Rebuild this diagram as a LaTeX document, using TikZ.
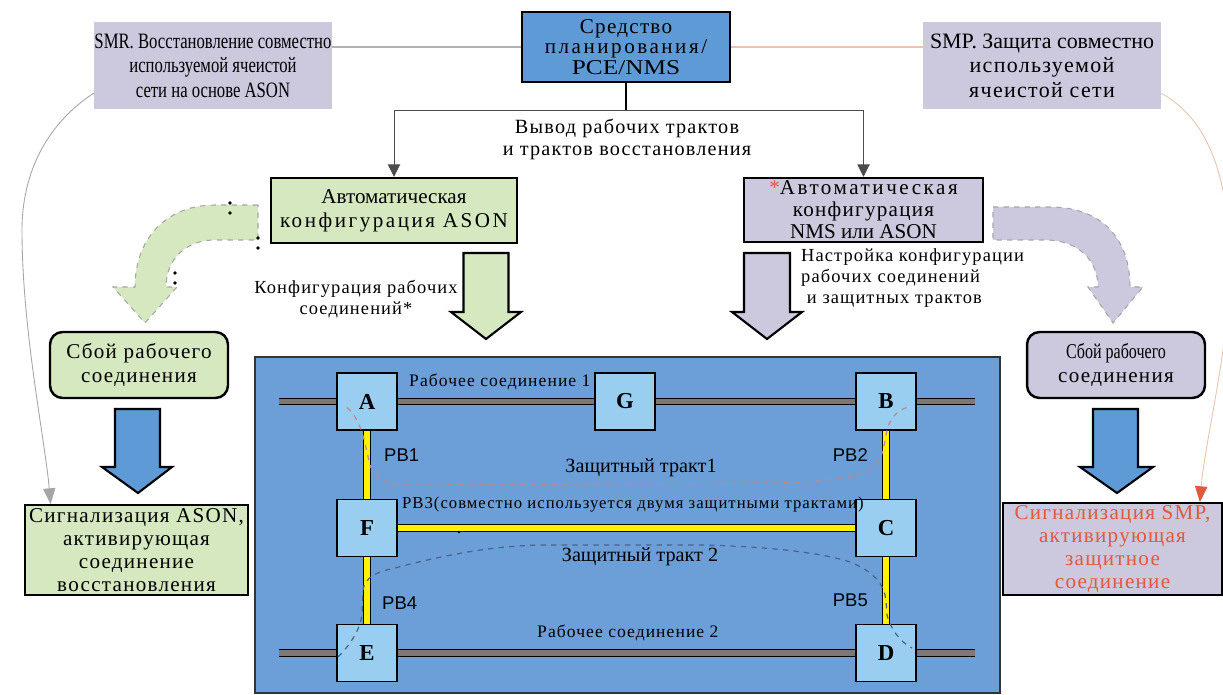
\documentclass[tikz,border=0pt]{standalone}
\usepackage{fontspec}
\usepackage{graphicx}
\setmainfont{Liberation Serif}
\newfontfamily\wideserif[LetterSpace=6]{Liberation Serif}
\newfontfamily\widerserif[LetterSpace=12]{Liberation Serif}
\newfontfamily\pbsans{Liberation Sans}
\usetikzlibrary{arrows.meta}
\definecolor{planBlue}{HTML}{5E9AD6}
\definecolor{netBlue}{HTML}{6C9FD8}
\definecolor{nodeBlue}{HTML}{9ACEF0}
\definecolor{asonGreen}{HTML}{D5E8C0}
\definecolor{noteLilac}{HTML}{CCC8DD}
\definecolor{barGray}{HTML}{7F7775}
\definecolor{smpRed}{HTML}{E2583E}
\definecolor{smpLine}{HTML}{EBC3A8}
\definecolor{protOne}{HTML}{B58A95}
\definecolor{protTwo}{HTML}{4B6387}
\newcommand\narrowline[1]{\scalebox{0.76}[1]{#1}}

\begin{document}
\begin{tikzpicture}[x=0.02cm, y=-0.02cm, font=\fontsize{11}{12.5}\selectfont,
    box/.style={draw, line width=1.4pt, inner sep=0pt, align=center},
    planbox/.style={box, fill=planBlue, minimum width=4.16cm, minimum height=1.4cm},
    notebox/.style={fill=noteLilac, inner sep=0pt, align=center, minimum width=4.76cm, minimum height=1.74cm},
    greenbox/.style={box, fill=asonGreen},
    lilacbox/.style={box, fill=noteLilac},
    failbox/.style={box, rounded corners=0.25cm, minimum width=3.56cm, minimum height=1.32cm},
    sigbox/.style={box, line width=1pt},
    nodesq/.style={draw, line width=1pt, fill=nodeBlue, minimum width=1.2cm, minimum height=1.14cm, inner sep=0pt, font=\fontsize{13}{13}\selectfont\bfseries},
    workbar/.style={double=barGray, double distance=3pt, line width=0.6pt},
    pblink/.style={double=yellow, double distance=3pt, line width=0.6pt},
    blockarrow/.style={draw, line width=1.2pt},
    bendarrow/.style={draw=gray!70, dashed, line width=0.6pt},
    pblabel/.style={font=\fontsize{10.5}{12}\pbsans},
    netlabel/.style={font=\fontsize{10}{11}\wideserif},
    dot/.style={fill=black}]
\useasboundingbox (0,0) rectangle (1223,695);

% top row
\node[planbox, font=\fontsize{12}{11.5}\selectfont] (plan) at (626,47)
  {{\wideserif Средство}\\{\widerserif планирования/}\\\scalebox{1.2}[1]{PCE/NMS}};
\node[notebox, font=\fontsize{12.5}{14}\selectfont] (smr) at (213,65.5)
  {\narrowline{SMR. Восстановление совместно}\\\narrowline{используемой ячеистой}\\\narrowline{сети на основе ASON}};
\node[notebox, font=\fontsize{12.5}{14}\selectfont] (smp) at (1042,65.5)
  {SMP. Защита совместно\\{\wideserif используемой}\\{\wideserif ячеистой сети}};
\draw[gray!60, line width=0.6pt] (plan.west) -- (plan.west -| smr.east);
\draw[smpLine, line width=0.6pt] (plan.east) -- (plan.east -| smp.west);

% automatic configuration
\node[greenbox, minimum width=4.92cm, minimum height=1.3cm, font=\fontsize{12}{13.5}\selectfont] (ason) at (394,210.5)
  {Автоматическая\\{\widerserif конфигурация ASON}};
\node[lilacbox, minimum width=4.78cm, minimum height=1.28cm, font=\fontsize{12}{12.5}\selectfont] (nms) at (863.5,210)
  {{\widerserif\textcolor{smpRed}{*}Автоматическая}\\{\wideserif конфигурация}\\NMS или ASON};
\draw[line width=1pt] (plan.south) -- ++(0,27) coordinate (fork);
\draw[black!70, line width=0.5pt, -{Triangle[width=7pt,length=7pt]}] (fork) -| (ason.north);
\draw[black!70, line width=0.5pt, -{Triangle[width=7pt,length=7pt]}] (fork) -| (nms.north);
\node[font=\fontsize{11.5}{12.5}\wideserif, align=center] (derive) at (627,139)
  {Вывод рабочих трактов\\и трактов восстановления};

% block arrows into the network
\draw[blockarrow, fill=asonGreen] (463.5,253) -- (508.5,253) -- (508.5,312) -- (521,312) -- (486,339) -- (451,312) -- (463.5,312) -- cycle;
\draw[blockarrow, fill=noteLilac] (744,253) -- (790,253) -- (790,312) -- (802,312) -- (767,339) -- (732,312) -- (744,312) -- cycle;
\node[font=\fontsize{10.5}{12}\wideserif, align=center] (cfgwork) at (356,299)
  {Конфигурация рабочих\\соединений*};
\node[font=\fontsize{10.5}{12}\wideserif, align=left, anchor=west] (cfgprot) at (795,278)
  {Настройка конфигурации\\рабочих соединений\\\ и защитных трактов};

% bent arrows
\draw[bendarrow, fill=asonGreen] (258,205) -- (215,205) .. controls (165,205) and (135,240) .. (135,287) -- (113,287) -- (145,323) -- (177,287) -- (166,287) .. controls (166,262) and (183,240) .. (215,240) -- (258,240) -- cycle;
\draw[bendarrow, fill=noteLilac] (993,207) -- (1050,207) .. controls (1103,207) and (1130,240) .. (1130,287) -- (1143,287) -- (1113,323) -- (1088,287) -- (1098,287) .. controls (1098,262) and (1080,240) .. (1045,240) -- (993,240) -- cycle;
\foreach \p in {(230,203),(230,213),(258,238),(258,248),(175,273),(175,283)}
  \fill[dot] \p circle (1.1pt);

% left column
\node[failbox, fill=asonGreen, font=\fontsize{12}{14}\wideserif] (failL) at (139,365) {Сбой рабочего\\соединения};
\node[sigbox, fill=asonGreen, minimum width=4.46cm, minimum height=1.8cm, font=\fontsize{12}{13}\wideserif] (sigL) at (136.5,550)
  {Сигнализация ASON,\\активирующая\\соединение\\восстановления};
\draw[blockarrow, fill=planBlue] (115,409) -- (160,409) -- (160,467) -- (172,467) -- (138,493) -- (102,467) -- (115,467) -- cycle;
\coordinate (smrfoot) at (94,93);
\draw[gray!70, line width=0.5pt, -{Triangle[width=7pt,length=9pt]}] (smrfoot) .. controls (45,125) and (22,175) .. (22,230) .. controls (22,330) and (45,440) .. ([xshift=0.53cm]sigL.north west);

% right column
\node[failbox, fill=noteLilac, font=\fontsize{12}{14}\selectfont] (failR) at (1116,365) {\narrowline{Сбой рабочего}\\{\wideserif соединения}};
\node[sigbox, fill=noteLilac, minimum width=4.38cm, minimum height=1.84cm, font=\fontsize{12}{13}\wideserif, text=smpRed] (sigR) at (1112.5,549)
  {Сигнализация SMP,\\активирующая\\защитное\\соединение};
\draw[blockarrow, fill=planBlue] (1093,409) -- (1138,409) -- (1138,467) -- (1153,467) -- (1117,493) -- (1080,467) -- (1093,467) -- cycle;
\coordinate (smpfoot) at (1161,93);
\draw[smpLine, line width=0.5pt, -{Triangle[width=7pt,length=9pt,color=smpRed]}] (smpfoot) .. controls (1200,115) and (1228,160) .. (1230,260) .. controls (1231,340) and (1205,440) .. ([xshift=-0.46cm]sigR.north east);

% shared mesh network
\draw[fill=netBlue, line width=1pt, draw=black!80] (255,357) rectangle (1000,693);
\node[nodesq] (A) at (367,401.5) {A};
\node[nodesq] (G) at (625,401.5) {G};
\node[nodesq] (B) at (886,401.5) {B};
\node[nodesq] (F) at (367,528) {F};
\node[nodesq] (C) at (886,528) {C};
\node[nodesq] (E) at (367,653) {E};
\node[nodesq] (D) at (886,653) {D};
\coordinate (w1l) at (279,401.5);
\coordinate (w1r) at (975,401.5);
\coordinate (w2l) at (279,653);
\coordinate (w2r) at (975,653);
\draw[workbar] (w1l) -- (A) (A) -- (G) (G) -- (B) (B) -- (w1r);
\draw[workbar] (w2l) -- (E) (E) -- (D) (D) -- (w2r);
\draw[pblink] (A) -- (F) (F) -- (E) (F) -- (C) (B) -- (C) (C) -- (D);
\fill[dot] (459,532) circle (0.8pt);

% protection paths
\draw[protOne, dashed, line width=0.7pt] ([shift={(-20,6)}]A.center) .. controls (362,420) and (365,445) .. (370,465) .. controls (375,480) and (390,485) .. (420,485) -- (773,483) .. controls (820,482) and (860,478) .. (873,468) .. controls (883,460) and (884,445) .. (887,430) .. controls (890,418) and (898,410) .. ([shift={(21,6)}]B.center);
\draw[protTwo, dashed, line width=0.7pt] ([shift={(-29,4)}]E.center) .. controls (350,645) and (360,630) .. (362,615) -- (363,590) .. controls (365,578) and (375,572) .. (395,568) .. controls (440,556) and (490,546) .. (540,545) -- (700,545) .. controls (760,546) and (820,552) .. (850,562) .. controls (875,572) and (884,585) .. (886,600) -- (887,615) .. controls (890,628) and (900,642) .. ([shift={(26,-5)}]D.center);

% labels in the network
\node[netlabel, anchor=west] (w1lab) at (403,382) {Рабочее соединение 1};
\node[netlabel, anchor=west] (w2lab) at (531,633) {Рабочее соединение 2};
\node[netlabel, font=\fontsize{9.5}{11}\wideserif, anchor=west] (pb3lab) at (396,505) {PB3(совместно используется двумя защитными трактами)};
\node[font=\fontsize{11.5}{12}\selectfont] (p1lab) at (641,468) {Защитный тракт1};
\node[font=\fontsize{11.5}{12}\selectfont] (p2lab) at (640,557) {Защитный тракт 2};
\node[pblabel, anchor=west] (pb1) at (378,455) {PB1};
\node[pblabel, anchor=east] (pb2) at (874,455) {PB2};
\node[pblabel, anchor=west] (pb4) at (376,603) {PB4};
\node[pblabel, anchor=east] (pb5) at (874,600) {PB5};
\end{tikzpicture}
\end{document}
